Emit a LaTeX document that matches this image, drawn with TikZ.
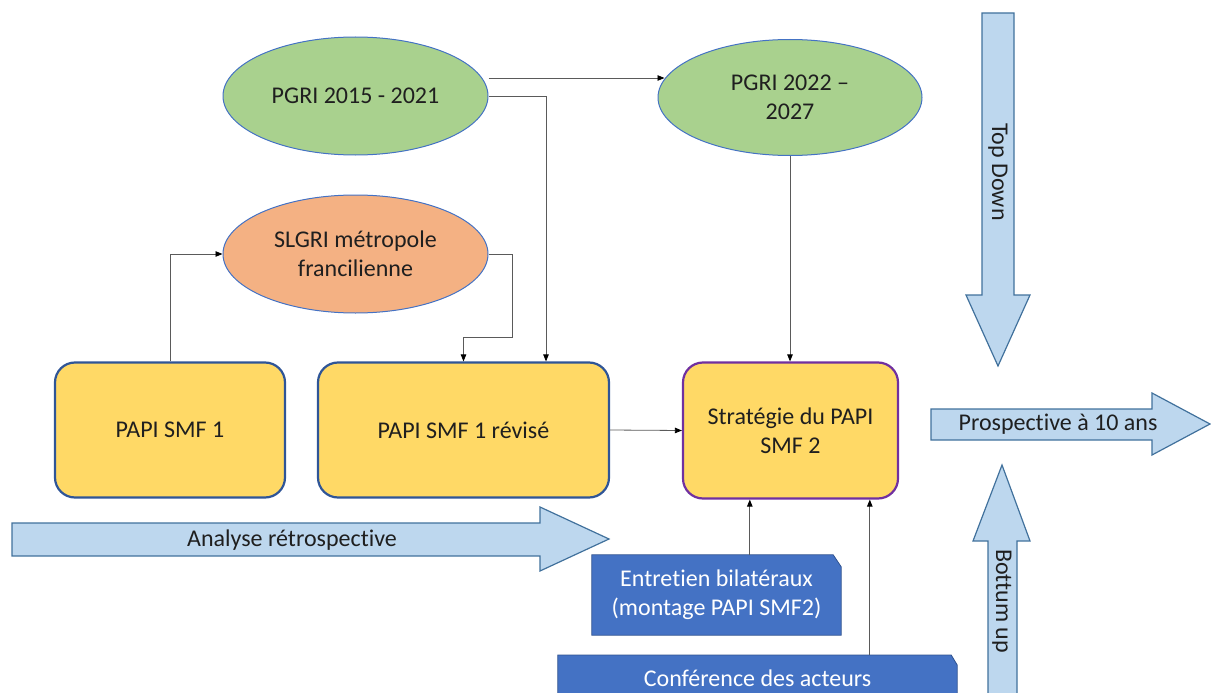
\documentclass[tikz,border=0pt]{standalone}
\usepackage{fontspec}
\setmainfont[Ligatures=NoCommon, RawFeature={-liga;-clig;-calt;-dlig}]{Carlito}
\usetikzlibrary{shapes.geometric,arrows.meta,calc,backgrounds}
\definecolor{yel}{HTML}{FFD966}
\definecolor{yelb}{HTML}{2F5597}
\definecolor{purp}{HTML}{7030A0}
\definecolor{grn}{HTML}{A9D18E}
\definecolor{org}{HTML}{F4B183}
\definecolor{ellb}{HTML}{4472C4}
\definecolor{lblue}{HTML}{BDD7EE}
\definecolor{lblueb}{HTML}{41719C}
\definecolor{dblue}{HTML}{4472C4}
\definecolor{dblueb}{HTML}{2F528F}
\definecolor{txt}{HTML}{1F1F1F}
\definecolor{lin}{HTML}{5A5A5A}
\newcommand\dgfont{\fontsize{24}{29}\selectfont}
\tikzset{
  every node/.style={font=\dgfont, text=txt, align=center, inner sep=0pt},
  ybox/.style={rectangle, rounded corners=20pt, draw=yelb, line width=2.2pt, fill=yel},
  ell/.style={ellipse, draw=ellb, line width=1pt},
  conn/.style={draw=lin, line width=0.8pt, -{Triangle[length=7pt,width=5.5pt,color=black]}},
  barrow/.style={fill=lblue, draw=lblueb, line width=1.2pt},
  bbox/.style={fill=dblue, draw=dblueb, line width=0.8pt},
  btext/.style={text=white}
}
\begin{document}
\begin{tikzpicture}[x=1pt,y=-1pt]
\useasboundingbox (0,0) rectangle (1211,693);
% block arrows
\draw[barrow] (12,523) -- (540,523) -- (540,507) -- (609,539) -- (540,571) -- (540,556) -- (12,556) -- cycle;
\node (ar) at (292,540) {Analyse rétrospective};
\draw[barrow] (982,13) -- (1014,13) -- (1014,295) -- (1030,295) -- (998,366) -- (966,295) -- (982,295) -- cycle;
\node[rotate=-90] (td) at (998,172) {Top Down};
\draw[barrow] (931,409) -- (1152,409) -- (1152,393) -- (1210,424) -- (1152,455) -- (1152,440) -- (931,440) -- cycle;
\node (pr) at (1058,424) {Prospective à 10 ans};
\draw[barrow] (988,710) -- (988,541) -- (973,541) -- (1002,465) -- (1030,541) -- (1017,541) -- (1017,710) -- cycle;
\node[rotate=-90] (bu) at (1002,601) {Bottum up};
% ellipses
\node[ell, fill=grn, minimum width=265pt, minimum height=118pt] (p1) at (355.5,96) {PGRI 2015 - 2021};
\node[ell, fill=org, minimum width=265pt, minimum height=118pt] (s1) at (355.5,254) {SLGRI métropole\\francilienne};
\node[ell, fill=grn, minimum width=264pt, minimum height=116pt] (p2) at (790,97.5) {PGRI 2022 –\\2027};
% yellow boxes
\node[ybox, minimum width=230pt, minimum height=135pt] (r1) at (170,430) {PAPI SMF 1};
\node[ybox, minimum width=291pt, minimum height=135pt] (r2) at (463.5,430) {PAPI SMF 1 révisé};
\node[ybox, draw=purp, minimum width=215pt, minimum height=136pt] (r3) at (790.5,430.5) {Stratégie du PAPI\\SMF 2};
% blue boxes
\node[btext, minimum width=249pt, minimum height=80pt] (e1) at (716.5,595) {Entretien bilatéraux\\(montage PAPI SMF2)};
\node[btext, anchor=north, minimum width=399pt, minimum height=46pt] (c1) at (757.5,655) {Conférence des acteurs};
\begin{pgfonlayer}{background}
\draw[bbox] (e1.south west) -- (e1.north west) -- ([xshift=-8pt]e1.north east) -- ([yshift=-12pt]e1.north east) -- (e1.south east) -- cycle;
\draw[bbox] ($(c1.west)+(0,40)$) -- (c1.north west) -- ([xshift=-6pt]c1.north east) -- ([yshift=-10pt]c1.north east) -- ($(c1.east)+(0,40)$) -- cycle;
\end{pgfonlayer}
% connectors
\draw[conn] ($(p1.east)+(0,-18)$) -- ($(p2.west)+(7,-19.5)$);
\draw[conn] (p1.east) -| ($(r2.north)+(82.5,0)$);
\draw[conn] (s1.east) -- ++(24,0) -- ++(0,83) -| (r2.north);
\draw[conn] (r1.north) |- (s1.west);
\draw[conn] (p2.south) -- (p2.south |- r3.north);
\draw[conn] (r2.east) -- (r3.west);
\draw[conn] ($(e1.north west)+(158,0)$) coordinate (a7) -- (a7 |- r3.south);
\draw[conn] ($(c1.north west)+(312,0)$) coordinate (a8) -- (a8 |- r3.south);
\end{tikzpicture}
\end{document}
